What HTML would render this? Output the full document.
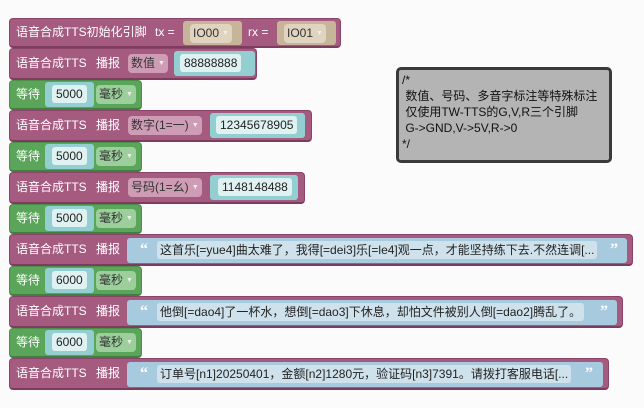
<!DOCTYPE html>
<html><head><meta charset="utf-8"><style>
*{margin:0;padding:0;box-sizing:border-box}
body{width:644px;height:408px;background:#fbfbfb;position:relative;overflow:hidden;font-family:"Liberation Sans","Noto Sans CJK SC",sans-serif;font-size:12px;color:#fff}
.b{position:absolute;left:9px;border-radius:4px;border-bottom-width:2px}
.p{background:#a55b80;border:1px solid #8a4468;border-bottom:2px solid #7d3c5d}
.g{background:#5ba55b;border:1px solid #4a8f4a;border-bottom:2px solid #3f7f3f}
.t{position:absolute;white-space:nowrap;line-height:16px}
.s{position:absolute;border-radius:3px}
.cy{background:#93cfd1}
.in{position:absolute;border-radius:3px;background:#dff1f1;color:#222;line-height:18px;padding:0 4px;white-space:nowrap}
.dd{position:absolute;border-radius:4px;line-height:18px;padding:0 3px;white-space:nowrap;color:#333}
.ar{font-size:7px;color:#eee;margin-left:3px;vertical-align:2px}
.str{background:#a7cadf}
.sin{position:absolute;border-radius:3px;background:#cfe2ec;color:#222;line-height:18px;padding:0 3px;white-space:nowrap}
.q{position:absolute;color:#fff;font-weight:bold;font-size:16px;line-height:16px;font-family:"Liberation Serif",serif}
</style></head><body>

<!-- row1 -->
<div class="b p" style="top:18px;width:332px;height:30px"></div>
<div class="t" style="left:16px;top:24px">语音合成TTS初始化引脚</div>
<div class="t" style="left:155px;top:24px">tx =</div>
<div class="s" style="left:183px;top:21px;width:59px;height:24px;background:#c7b59a"></div>
<div class="dd" style="left:190px;top:24px;background:#e0d3bf">IO00<span class="ar">▼</span></div>
<div class="t" style="left:248px;top:24px">rx =</div>
<div class="s" style="left:277px;top:21px;width:59px;height:24px;background:#c7b59a"></div>
<div class="dd" style="left:284px;top:24px;background:#e0d3bf">IO01<span class="ar">▼</span></div>

<!-- row2 -->
<div class="b p" style="top:48px;width:248px;height:32px"></div>
<div class="t" style="left:16px;top:55px">语音合成TTS</div>
<div class="t" style="left:96px;top:55px">播报</div>
<div class="dd" style="left:128px;top:54px;background:#cf9cb5">数值<span class="ar">▼</span></div>
<div class="s cy" style="left:174px;top:51px;width:81px;height:25px"></div>
<div class="in" style="left:180px;top:54px">88888888</div>

<!-- wait -->
<div class="b g" style="top:80px;width:133px;height:30px"></div>
<div class="t" style="left:16px;top:86px">等待</div>
<div class="s cy" style="left:45px;top:82px;width:49px;height:25px"></div>
<div class="in" style="left:52px;top:85px">5000</div>
<div class="dd" style="left:96px;top:85px;background:#9ccf9c">毫秒<span class="ar">▼</span></div>

<!-- row4 -->
<div class="b p" style="top:110px;width:303px;height:32px"></div>
<div class="t" style="left:16px;top:117px">语音合成TTS</div>
<div class="t" style="left:96px;top:117px">播报</div>
<div class="dd" style="left:128px;top:116px;background:#cf9cb5">数字(1=一)<span class="ar">▼</span></div>
<div class="s cy" style="left:210px;top:113px;width:95px;height:25px"></div>
<div class="in" style="left:216px;top:116px">12345678905</div>

<!-- wait -->
<div class="b g" style="top:142px;width:133px;height:30px"></div>
<div class="t" style="left:16px;top:148px">等待</div>
<div class="s cy" style="left:45px;top:144px;width:49px;height:25px"></div>
<div class="in" style="left:52px;top:147px">5000</div>
<div class="dd" style="left:96px;top:147px;background:#9ccf9c">毫秒<span class="ar">▼</span></div>

<!-- row6 -->
<div class="b p" style="top:172px;width:296px;height:32px"></div>
<div class="t" style="left:16px;top:179px">语音合成TTS</div>
<div class="t" style="left:96px;top:179px">播报</div>
<div class="dd" style="left:128px;top:178px;background:#cf9cb5">号码(1=幺)<span class="ar">▼</span></div>
<div class="s cy" style="left:210px;top:175px;width:88px;height:25px"></div>
<div class="in" style="left:218px;top:178px">1148148488</div>

<!-- wait -->
<div class="b g" style="top:204px;width:133px;height:30px"></div>
<div class="t" style="left:16px;top:210px">等待</div>
<div class="s cy" style="left:45px;top:206px;width:49px;height:25px"></div>
<div class="in" style="left:52px;top:209px">5000</div>
<div class="dd" style="left:96px;top:209px;background:#9ccf9c">毫秒<span class="ar">▼</span></div>

<!-- row8 -->
<div class="b p" style="top:234px;width:624px;height:32px"></div>
<div class="t" style="left:16px;top:241px">语音合成TTS</div>
<div class="t" style="left:96px;top:241px">播报</div>
<div class="s str" style="left:127px;top:238px;width:500px;height:25px"></div>
<div class="q" style="left:140px;top:242px">“</div>
<div class="sin" style="left:157px;top:241px">这首乐[=yue4]曲太难了，我得[=dei3]乐[=le4]观一点，才能坚持练下去.不然连调[...</div>
<div class="q" style="left:610px;top:242px">”</div>

<!-- wait -->
<div class="b g" style="top:266px;width:133px;height:30px"></div>
<div class="t" style="left:16px;top:272px">等待</div>
<div class="s cy" style="left:45px;top:268px;width:49px;height:25px"></div>
<div class="in" style="left:52px;top:271px">6000</div>
<div class="dd" style="left:96px;top:271px;background:#9ccf9c">毫秒<span class="ar">▼</span></div>

<!-- row10 -->
<div class="b p" style="top:296px;width:614px;height:32px"></div>
<div class="t" style="left:16px;top:303px">语音合成TTS</div>
<div class="t" style="left:96px;top:303px">播报</div>
<div class="s str" style="left:127px;top:300px;width:490px;height:25px"></div>
<div class="q" style="left:140px;top:304px">“</div>
<div class="sin" style="left:157px;top:303px">他倒[=dao4]了一杯水，想倒[=dao3]下休息，却怕文件被别人倒[=dao2]腾乱了。</div>
<div class="q" style="left:600px;top:304px">”</div>

<!-- wait -->
<div class="b g" style="top:328px;width:133px;height:30px"></div>
<div class="t" style="left:16px;top:334px">等待</div>
<div class="s cy" style="left:45px;top:330px;width:49px;height:25px"></div>
<div class="in" style="left:52px;top:333px">6000</div>
<div class="dd" style="left:96px;top:333px;background:#9ccf9c">毫秒<span class="ar">▼</span></div>

<!-- row12 -->
<div class="b p" style="top:358px;width:600px;height:32px"></div>
<div class="t" style="left:16px;top:365px">语音合成TTS</div>
<div class="t" style="left:96px;top:365px">播报</div>
<div class="s str" style="left:127px;top:362px;width:476px;height:25px"></div>
<div class="q" style="left:140px;top:366px">“</div>
<div class="sin" style="left:157px;top:365px">订单号[n1]20250401，金额[n2]1280元，验证码[n3]7391。请拨打客服电话[...</div>
<div class="q" style="left:585px;top:366px">”</div>

<!-- comment -->
<div style="position:absolute;left:396px;top:67px;width:216px;height:96px;background:#b4b4b4;border:3px solid #3a3a3a;border-radius:5px"></div>
<div style="position:absolute;left:402px;top:72px;color:#111;font-size:12px;line-height:16px;white-space:pre">/*
 数值、号码、多音字标注等特殊标注
 仅使用TW-TTS的G,V,R三个引脚
 G-&gt;GND,V-&gt;5V,R-&gt;0
*/</div>
</body></html>
